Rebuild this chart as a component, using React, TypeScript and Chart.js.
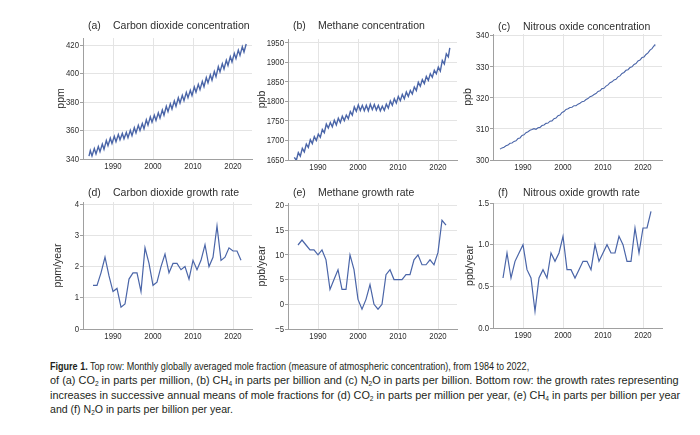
import React, { useEffect, useRef } from 'react';
import { Chart, registerables } from 'chart.js';

Chart.register(...registerables);

const FONT = '"Liberation Sans", Arial, sans-serif';
const LINE = '#4a65a8';
const GRID = '#e4e4e4';
const AXIS = '#a0a0a0';
const TEXT = '#2e2e2e';
const TICK_SIZE = 9.5;
const TICK_SQUEEZE = 0.82;

// ---------- data ----------
const YEARS = [1984, 1985, 1986, 1987, 1988, 1989, 1990, 1991, 1992, 1993, 1994, 1995, 1996, 1997, 1998, 1999, 2000, 2001, 2002, 2003, 2004, 2005, 2006, 2007, 2008, 2009, 2010, 2011, 2012, 2013, 2014, 2015, 2016, 2017, 2018, 2019, 2020, 2021, 2022];
const GROWTH_YEARS = [1985, 1986, 1987, 1988, 1989, 1990, 1991, 1992, 1993, 1994, 1995, 1996, 1997, 1998, 1999, 2000, 2001, 2002, 2003, 2004, 2005, 2006, 2007, 2008, 2009, 2010, 2011, 2012, 2013, 2014, 2015, 2016, 2017, 2018, 2019, 2020, 2021, 2022];

// CO2 (ppm): seasonal maximum (~May) and minimum (~Sep) of each year
const CO2_PEAK = [345.9, 347.3, 348.8, 350.5, 353.0, 354.6, 355.9, 357.2, 357.9, 358.6, 360.1, 362.0, 363.7, 364.9, 367.5, 369.6, 370.8, 372.4, 374.4, 377.0, 378.8, 380.8, 383.0, 384.7, 386.8, 388.3, 390.6, 392.4, 394.5, 397.2, 399.1, 401.5, 404.9, 407.0, 409.4, 411.9, 414.2, 416.5, 418.9];
const CO2_TROUGH = [342.2, 343.6, 345.1, 346.8, 349.3, 350.9, 352.2, 353.5, 354.2, 354.9, 356.4, 358.3, 360.0, 361.2, 363.8, 365.9, 367.1, 368.7, 370.7, 373.3, 375.1, 377.1, 379.3, 381.0, 383.1, 384.6, 386.9, 388.7, 390.8, 393.5, 395.4, 397.8, 401.2, 403.3, 405.7, 408.2, 410.5, 412.8, 415.2];
const CO2_START = 342.0;
const CO2_END = 420.8;

// CH4 (ppb): seasonal maximum (~Jan) and minimum (~Jul) of each year
const CH4_PEAK = [1657, 1669, 1680, 1691, 1702, 1710, 1716, 1728, 1742, 1746, 1752, 1757, 1762, 1765, 1774, 1786, 1791, 1790, 1790, 1793, 1792, 1790, 1788, 1793, 1801, 1807, 1813, 1818, 1824, 1828, 1837, 1849, 1856, 1864, 1871, 1880, 1888, 1905, 1922];
const CH4_TROUGH = [1649, 1660, 1671, 1682, 1692, 1700, 1708, 1720, 1732, 1735, 1740, 1746, 1751, 1756, 1765, 1775, 1777, 1776, 1776, 1779, 1778, 1776, 1777, 1783, 1790, 1796, 1802, 1807, 1813, 1819, 1828, 1839, 1846, 1854, 1862, 1871, 1878, 1896, 1914];
const CH4_END = 1937;

// N2O (ppb): first-half and second-half values of each year
const N2O_H1 = [303.5, 304.1, 304.8, 305.5, 306.2, 307.1, 308.1, 309.1, 309.8, 309.9, 310.5, 311.3, 311.9, 312.6, 313.5, 314.5, 315.6, 316.5, 317.0, 317.5, 318.3, 318.9, 319.8, 320.6, 321.4, 322.3, 323.1, 324.2, 325.2, 326.0, 327.1, 328.2, 329.1, 330.0, 331.1, 332.2, 333.2, 334.5, 335.9];
const N2O_H2 = [303.9, 304.6, 305.4, 306.0, 306.9, 307.9, 308.8, 309.6, 310.1, 310.4, 311.1, 311.8, 312.5, 313.3, 314.3, 315.3, 316.3, 316.9, 317.5, 318.0, 318.8, 319.5, 320.4, 321.1, 322.1, 323.0, 323.8, 324.9, 325.8, 326.8, 327.9, 328.9, 329.8, 330.8, 331.9, 333.0, 334.0, 335.4, 336.8];
const N2O_END = 337.3;

// growth rates
const CO2_GROWTH = [1.4, 1.4, 1.8, 2.3, 1.7, 1.2, 1.3, 0.7, 0.8, 1.6, 1.8, 1.8, 1.2, 2.6, 2.1, 1.4, 1.5, 2.0, 2.4, 1.8, 2.1, 2.1, 1.9, 2.0, 1.6, 2.2, 1.9, 2.2, 2.7, 2.0, 2.3, 3.3, 2.2, 2.3, 2.6, 2.5, 2.5, 2.2];
const CH4_GROWTH = [12, 13, 12, 11, 11, 10, 11, 9, 3, 5, 7, 3, 3, 10, 7, 1, -1, 1, 4, 0, -1, 0, 6, 7, 5, 5, 5, 6, 6, 9, 10, 8, 8, 9, 8, 10.5, 17, 16];
const N2O_GROWTH = [0.6, 0.9, 0.6, 0.8, 0.9, 1.0, 0.7, 0.6, 0.2, 0.6, 0.7, 0.6, 0.9, 0.8, 0.9, 1.1, 0.7, 0.7, 0.6, 0.7, 0.8, 0.8, 0.7, 1.0, 0.8, 0.9, 1.0, 0.9, 0.9, 1.1, 1.0, 0.8, 0.8, 1.2, 0.9, 1.2, 1.2, 1.4];

// ticks
const X_TICKS = [1990, 2000, 2010, 2020];
const CO2_TICKS = [340, 360, 380, 400, 420];
const CH4_TICKS = [1650, 1700, 1750, 1800, 1850, 1900, 1950];
const N2O_TICKS = [300, 310, 320, 330, 340];
const CO2G_TICKS = [0, 1, 2, 3, 4];
const CH4G_TICKS = [-5, 0, 5, 10, 15, 20];
const N2OG_TICKS = [0, 0.5, 1.0, 1.5];

// ---------- build point tables ----------
type Pt = { x: number; y: number };
function twoPerYear(a: number[], offA: number, b: number[], offB: number): Pt[] {
  const out: Pt[] = [];
  YEARS.forEach((yr, i) => {
    out.push({ x: yr + offA, y: a[i] });
    out.push({ x: yr + offB, y: b[i] });
  });
  return out;
}
const co2Series: Pt[] = [{ x: 1984.0, y: CO2_START }, ...twoPerYear(CO2_PEAK, 0.33, CO2_TROUGH, 0.75), { x: 2023.3, y: CO2_END }];
const ch4Series: Pt[] = [...twoPerYear(CH4_PEAK, 0.08, CH4_TROUGH, 0.58), { x: 2022.95, y: CH4_END }];
const n2oSeries: Pt[] = [...twoPerYear(N2O_H1, 0.25, N2O_H2, 0.75), { x: 2022.95, y: N2O_END }];
const annual = (vals: number[]): Pt[] => GROWTH_YEARS.map((yr, i) => ({ x: yr, y: vals[i] }));

const PANELS = [
  { tag: '(a)', title: 'Carbon dioxide concentration', unit: 'ppm', data: co2Series, ticks: CO2_TICKS, yMin: 340, yMax: 425, dec: 0,
    left: 40, top: 10, w: 220, h: 166, yW: 43, xH: 17, padTop: 28, titleY: 16, unitPad: 15, lw: 1.4 },
  { tag: '(b)', title: 'Methane concentration', unit: 'ppb', data: ch4Series, ticks: CH4_TICKS, yMin: 1650, yMax: 1960, dec: 0,
    left: 250, top: 10, w: 215, h: 166, yW: 38, xH: 16, padTop: 29, titleY: 16, unitPad: 6, lw: 1.4 },
  { tag: '(c)', title: 'Nitrous oxide concentration', unit: 'ppb', data: n2oSeries, ticks: N2O_TICKS, yMin: 300, yMax: 340.6, dec: 0,
    left: 455, top: 10, w: 215, h: 166, yW: 38, xH: 16, padTop: 24, titleY: 17, unitPad: 7, lw: 1.1 },
  { tag: '(d)', title: 'Carbon dioxide growth rate', unit: 'ppm/year', data: annual(CO2_GROWTH), ticks: CO2G_TICKS, yMin: 0, yMax: 4.07, dec: 0,
    left: 40, top: 180, w: 220, h: 166, yW: 43, xH: 17, padTop: 22, titleY: 13, unitPad: 12, lw: 1.2 },
  { tag: '(e)', title: 'Methane growth rate', unit: 'ppb/year', data: annual(CH4_GROWTH), ticks: CH4G_TICKS, yMin: -5, yMax: 20.5, dec: 0,
    left: 250, top: 180, w: 215, h: 166, yW: 38, xH: 17, padTop: 23, titleY: 13, unitPad: 6, lw: 1.2 },
  { tag: '(f)', title: 'Nitrous oxide growth rate', unit: 'ppb/year', data: annual(N2O_GROWTH), ticks: N2OG_TICKS, yMin: 0, yMax: 1.5, dec: 1,
    left: 455, top: 180, w: 215, h: 166, yW: 38, xH: 18, padTop: 23, titleY: 13, unitPad: 9, lw: 1.2 },
];

function drawSqueezed(ctx: CanvasRenderingContext2D, text: string, x: number, y: number, align: CanvasTextAlign, sx: number) {
  ctx.save();
  ctx.translate(x, y);
  ctx.scale(sx, 1);
  ctx.textAlign = align;
  ctx.fillText(text, 0, 0);
  ctx.restore();
}

const fmtTick = (v: number, dec: number) => {
  const s = Math.abs(v).toFixed(dec);
  return v < 0 ? '\u2212' + s : s;
};

const panelText = {
  id: 'panelText',
  afterDraw(chart: any, _args: any, opts: any) {
    const { ctx, chartArea, scales } = chart;
    ctx.save();
    ctx.fillStyle = TEXT;
    ctx.textBaseline = 'middle';
    // title
    ctx.font = `10.5px ${FONT}`;
    ctx.textAlign = 'left';
    ctx.fillText(opts.tag, chartArea.left + 5, opts.y);
    ctx.fillText(opts.text, chartArea.left + 30, opts.y);
    // tick labels, placed by the chart's own scales
    ctx.font = `${TICK_SIZE}px ${FONT}`;
    scales.x.ticks.forEach((t: any) => {
      const px = scales.x.getPixelForValue(t.value);
      drawSqueezed(ctx, String(t.value), px, chartArea.bottom + 7.5, 'center', TICK_SQUEEZE);
    });
    scales.y.ticks.forEach((t: any) => {
      const py = scales.y.getPixelForValue(t.value);
      drawSqueezed(ctx, fmtTick(t.value, opts.dec), chartArea.left - 4, py, 'right', TICK_SQUEEZE);
    });
    ctx.restore();
  },
};

function Panel({ cfg }: { cfg: any }) {
  const ref = useRef<HTMLCanvasElement>(null);
  useEffect(() => {
    const chart = new Chart(ref.current as HTMLCanvasElement, {
      type: 'line',
      data: {
        datasets: [
          { data: cfg.data, borderColor: LINE, borderWidth: cfg.lw, pointRadius: 0, fill: false, tension: 0 },
        ],
      },
      plugins: [panelText as any],
      options: {
        animation: false,
        responsive: false,
        devicePixelRatio: 1,
        events: [],
        parsing: false as any,
        layout: { padding: { top: cfg.padTop, right: 8, left: 0, bottom: 0 } },
        plugins: {
          legend: { display: false },
          tooltip: { enabled: false },
          panelText: { tag: cfg.tag, text: cfg.title, y: cfg.titleY, dec: cfg.dec },
        } as any,
        scales: {
          x: {
            type: 'linear',
            min: 1982.5,
            max: 2024.75,
            afterBuildTicks: (s: any) => { s.ticks = X_TICKS.map((v) => ({ value: v })); },
            afterFit: (s: any) => { s.height = cfg.xH; },
            grid: { color: GRID, drawTicks: false },
            border: { color: AXIS },
            ticks: { display: false },
          },
          y: {
            type: 'linear',
            min: cfg.yMin,
            max: cfg.yMax,
            afterBuildTicks: (s: any) => { s.ticks = cfg.ticks.map((v: number) => ({ value: v })); },
            afterFit: (s: any) => { s.width = cfg.yW; },
            grid: { color: GRID, tickLength: 3, tickColor: AXIS },
            border: { color: AXIS },
            ticks: { display: false },
            title: { display: true, text: cfg.unit, color: TEXT, font: { family: FONT, size: 10.5 }, padding: { top: cfg.unitPad, bottom: 0 } },
          },
        },
      } as any,
    });
    return () => chart.destroy();
  }, []);
  return (
    <canvas
      ref={ref}
      width={cfg.w}
      height={cfg.h}
      style={{ position: 'absolute', left: cfg.left, top: cfg.top, width: cfg.w, height: cfg.h }}
    />
  );
}

const Sub = ({ c }: { c: string }) => (
  <span style={{ fontSize: '7px', verticalAlign: 'baseline', position: 'relative', top: '2px' }}>{c}</span>
);

const CAPTION_LINES: { top: number; sx: number; content: React.ReactNode }[] = [
  { top: 359, sx: 0.786, content: <><b>Figure 1.</b> Top row: Monthly globally averaged mole fraction (measure of atmospheric concentration), from 1984 to 2022,</> },
  { top: 373.3, sx: 0.949, content: <>of (a) CO<Sub c="2" /> in parts per million, (b) CH<Sub c="4" /> in parts per billion and (c) N<Sub c="2" />O in parts per billion. Bottom row: the growth rates representing</> },
  { top: 387.6, sx: 0.946, content: <>increases in successive annual means of mole fractions for (d) CO<Sub c="2" /> in parts per million per year, (e) CH<Sub c="4" /> in parts per billion per year</> },
  { top: 401.9, sx: 0.92, content: <>and (f) N<Sub c="2" />O in parts per billion per year.</> },
];

export default function App() {
  return (
    <div style={{ position: 'absolute', left: 0, top: 0, width: 700, height: 435, background: '#ffffff', overflow: 'hidden' }}>
      {PANELS.map((p, i) => (
        <Panel key={i} cfg={p} />
      ))}
      {CAPTION_LINES.map((l, i) => (
        <div
          key={i}
          style={{
            position: 'absolute', left: 50, top: l.top, height: 14, whiteSpace: 'nowrap', fontFamily: FONT, fontSize: '11.5px',
            lineHeight: '14px', color: '#231f20', transform: `scaleX(${l.sx})`, transformOrigin: '0 0',
          }}
        >
          {l.content}
        </div>
      ))}
    </div>
  );
}
